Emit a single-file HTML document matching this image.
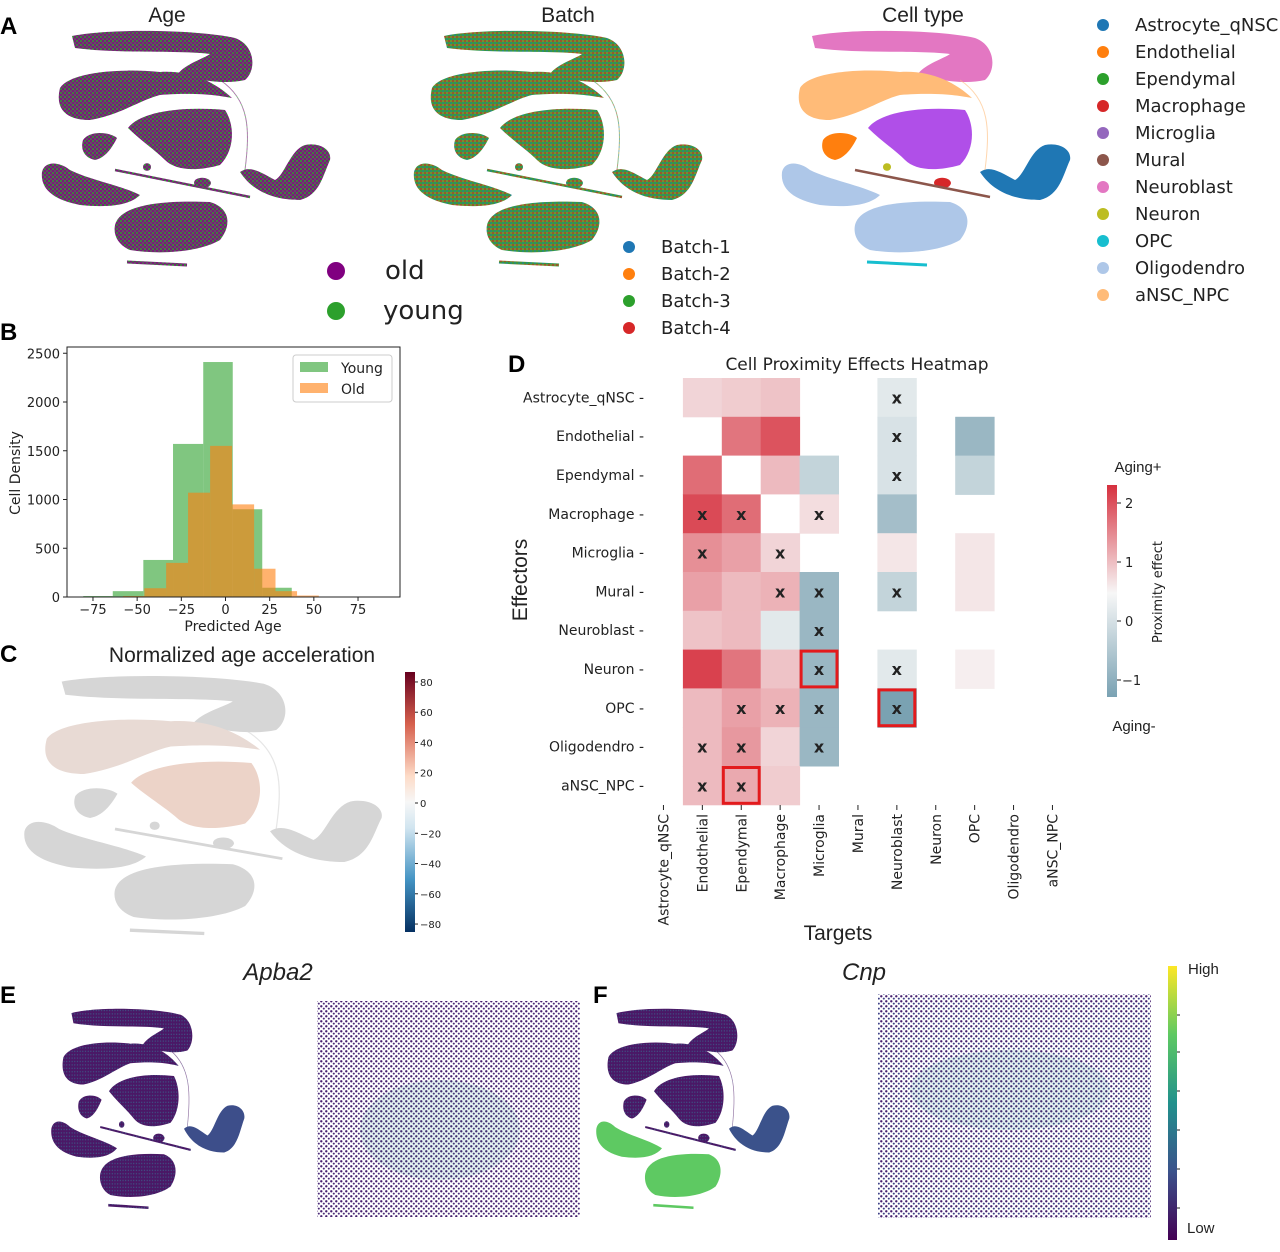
<!DOCTYPE html>
<html><head><meta charset="utf-8"><style>
body{margin:0;background:#fff}
svg text{font-family:"DejaVu Sans","Liberation Sans",sans-serif;fill:#222}
.ttl{font-family:"Liberation Sans",sans-serif}
.pl{font-family:"Liberation Sans",sans-serif;font-weight:bold;font-size:24px;fill:#000}
</style></head><body>
<svg id="fig" width="1280" height="1247" viewBox="0 0 1280 1247" xmlns="http://www.w3.org/2000/svg">
<defs>
<pattern id="pAge" width="4" height="4" patternUnits="userSpaceOnUse"><rect width="4" height="4" fill="#7a1a7a"/><circle cx="1" cy="1" r="1" fill="#2ca02c"/><circle cx="3" cy="3" r="0.8" fill="#3a9a3a"/></pattern>
<pattern id="pBatch" width="4" height="4" patternUnits="userSpaceOnUse"><rect width="4" height="4" fill="#3a9a3a"/><circle cx="1" cy="1" r="0.9" fill="#d62728"/><circle cx="3" cy="3" r="0.8" fill="#1f77b4"/><circle cx="3" cy="1" r="0.6" fill="#ff7f0e"/></pattern>
<pattern id="pE" width="4" height="4" patternUnits="userSpaceOnUse"><rect width="4" height="4" fill="#4a1866"/><circle cx="1" cy="1" r="0.8" fill="#3b5f8a"/></pattern>
<pattern id="pSp" width="5" height="5" patternUnits="userSpaceOnUse"><rect width="5" height="5" fill="#fff"/><circle cx="1.3" cy="1.3" r="1.2" fill="#46206e"/><circle cx="3.8" cy="3.6" r="1.0" fill="#4a2a78"/></pattern>
<pattern id="pSp2" width="5" height="5" patternUnits="userSpaceOnUse"><rect width="5" height="5" fill="#fff"/><circle cx="1.3" cy="1.3" r="1.2" fill="#46206e"/><circle cx="3.8" cy="3.6" r="1.0" fill="#3d3f85"/></pattern>
<linearGradient id="gHeat" x1="0" y1="0" x2="0" y2="1">
<stop offset="0" stop-color="#d6303e"/><stop offset="0.51" stop-color="#f7f7f7"/><stop offset="1" stop-color="#7aa2b3"/></linearGradient>
<linearGradient id="gRdBu" x1="0" y1="0" x2="0" y2="1">
<stop offset="0" stop-color="#67001f"/><stop offset="0.2" stop-color="#d6604d"/><stop offset="0.4" stop-color="#fddbc7"/><stop offset="0.5" stop-color="#f7f7f7"/><stop offset="0.6" stop-color="#d1e5f0"/><stop offset="0.8" stop-color="#4393c3"/><stop offset="1" stop-color="#053061"/></linearGradient>
<linearGradient id="gVir" x1="0" y1="1" x2="0" y2="0">
<stop offset="0" stop-color="#440154"/><stop offset="0.25" stop-color="#3b528b"/><stop offset="0.5" stop-color="#21918c"/><stop offset="0.75" stop-color="#5ec962"/><stop offset="1" stop-color="#fde725"/></linearGradient>
</defs>

<text class="pl" x="0" y="34">A</text>
<text class="pl" x="0" y="340">B</text>
<text class="pl" x="0" y="662">C</text>
<text class="pl" x="508" y="372">D</text>
<text class="pl" x="0" y="1003">E</text>
<text class="pl" x="593" y="1003">F</text>

<text class="ttl" x="167" y="22" font-size="21" text-anchor="middle">Age</text>
<text class="ttl" x="568" y="22" font-size="21" text-anchor="middle">Batch</text>
<text class="ttl" x="923" y="22" font-size="21" text-anchor="middle">Cell type</text>

<g id="umaps"></g>

<g>
<circle cx="336" cy="271" r="9" fill="#800080"/><text x="385" y="279" font-size="26">old</text>
<circle cx="336" cy="311" r="9" fill="#2ca02c"/><text x="383" y="319" font-size="26">young</text>
</g>
<g id="batchLeg"></g>
<g id="ctLeg"></g>

<g id="hist"></g>

<text class="ttl" x="242" y="662" font-size="21" text-anchor="middle">Normalized age acceleration</text>
<rect x="405" y="672" width="10" height="260" fill="url(#gRdBu)"/>
<g id="cbC" font-size="10"></g>

<text x="857" y="370" font-size="17" text-anchor="middle">Cell Proximity Effects Heatmap</text>
<g id="heat"></g>
<text class="ttl" x="838" y="940" font-size="21" text-anchor="middle">Targets</text>
<text class="ttl" x="0" y="0" font-size="21" text-anchor="middle" transform="translate(527,580) rotate(-90)">Effectors</text>
<rect x="1107" y="485" width="10" height="212" fill="url(#gHeat)"/>
<g font-size="13">
<line x1="1117" y1="503" x2="1121" y2="503" stroke="#222"/><text x="1125" y="508">2</text>
<line x1="1117" y1="562" x2="1121" y2="562" stroke="#222"/><text x="1125" y="567">1</text>
<line x1="1117" y1="621" x2="1121" y2="621" stroke="#222"/><text x="1125" y="626">0</text>
<line x1="1117" y1="680" x2="1121" y2="680" stroke="#222"/><text x="1122" y="685">−1</text>
</g>
<text class="ttl" x="1138" y="472" font-size="15" text-anchor="middle">Aging+</text>
<text class="ttl" x="1134" y="731" font-size="15" text-anchor="middle">Aging-</text>
<text x="0" y="0" font-size="13" text-anchor="middle" transform="translate(1162,592) rotate(-90)">Proximity effect</text>

<text class="ttl" x="278" y="980" font-size="24" font-style="italic" text-anchor="middle">Apba2</text>
<text class="ttl" x="864" y="980" font-size="24" font-style="italic" text-anchor="middle">Cnp</text>
<rect x="317" y="1001" width="263" height="216" fill="url(#pSp)"/>
<ellipse cx="440" cy="1130" rx="80" ry="50" fill="#21918c" opacity="0.12"/>
<rect x="878" y="994" width="273" height="224" fill="url(#pSp2)"/>
<ellipse cx="1010" cy="1090" rx="100" ry="40" fill="#21918c" opacity="0.12"/>
<rect x="1168" y="966" width="9" height="274" fill="url(#gVir)"/>
<g stroke="#222"><line x1="1177" y1="1015" x2="1180" y2="1015"/><line x1="1177" y1="1052" x2="1180" y2="1052"/><line x1="1177" y1="1091" x2="1180" y2="1091"/><line x1="1177" y1="1130" x2="1180" y2="1130"/><line x1="1177" y1="1169" x2="1180" y2="1169"/><line x1="1177" y1="1208" x2="1180" y2="1208"/></g>
<text class="ttl" x="1188" y="974" font-size="15">High</text>
<text class="ttl" x="1187" y="1233" font-size="15">Low</text>
</svg>
<script>
const NS='http://www.w3.org/2000/svg';
function mk(p,tag,attrs){const e=document.createElementNS(NS,tag);for(const k in attrs)e.setAttribute(k,attrs[k]);p.appendChild(e);return e;}

const clusters=[
 ['neuroblast','M812,36 C850,28 940,30 975,38 C995,45 997,70 985,80 C965,85 935,80 918,74 C925,64 945,58 950,54 C920,50 860,54 815,48 Z','#e377c2'],
 ['ansc','M800,88 C810,72 860,68 900,72 C930,70 955,82 972,98 C960,96 940,92 900,95 C880,100 860,115 830,120 C805,120 795,108 800,88 Z','#ffbb78'],
 ['microglia','M868,128 C880,112 920,106 965,110 C975,125 975,150 960,165 C935,172 915,170 905,160 C895,150 880,140 868,128 Z','#b04fe8'],
 ['endothelial','M823,140 C830,130 850,132 857,138 C852,148 845,158 835,160 C825,158 820,150 823,140 Z','#ff7f0e'],
 ['oligo-a','M782,172 C785,160 800,162 810,170 C830,180 860,185 880,195 C870,205 850,208 820,205 C795,200 780,190 782,172 Z','#aec7e8'],
 ['oligo-b','M855,225 C860,205 900,200 950,202 C970,208 972,225 960,240 C940,252 900,255 870,250 C858,245 853,235 855,225 Z','#aec7e8'],
 ['astro','M980,172 C990,165 1000,172 1015,180 C1025,175 1030,150 1045,145 C1060,142 1072,150 1070,160 C1063,175 1060,195 1040,200 C1020,200 995,195 980,172 Z','#1f77b4'],
 ['macrophage','M934,183 C934,176 950,176 951,183 C950,190 935,190 934,183 Z','#d62728'],
 ['neuron','M883,167 C883,162 891,162 891,167 C891,172 883,172 883,167 Z','#bcbd22']
];
const lines=[['mural','M855,170 L990,197','#8c564b',2.5],['opc','M867,262 L927,265','#17becf',3],['bridge','M960,80 C990,100 990,130 985,170','#ffbb78',1]];
function umap(name,tx,ty,sx,sy,colorFn){
  const g=mk(document.getElementById('umaps'),'g',{transform:`translate(${tx},${ty}) scale(${sx},${sy}) translate(-780,-30)`});
  
  
  clusters.forEach(c=>mk(g,'path',{d:c[1],fill:colorFn(c[0],c[2])}));
  lines.forEach(l=>mk(g,'path',{d:l[1],fill:'none',stroke:colorFn(l[0],l[2]),'stroke-width':l[3],'stroke-opacity':l[0]==='bridge'?0.6:1}));
}
umap('age-umap',40,30,1,1,()=> 'url(#pAge)');
umap('batch-umap',412,30,1,1,()=> 'url(#pBatch)');
umap('cell-type-umap',780,30,1,1,(n,c)=>c);
umap('age-acceleration-umap',22,675,1.24,1.1,(n)=>n==='microglia'?'#ecd3c8':(n==='ansc'?'#e8dad4':'#d6d6d6'));
umap('apba2-umap',50,1008,0.67,0.85,(n)=>n==='astro'?'#3d4e8a':'url(#pE)');
umap('cnp-umap',595,1008,0.67,0.85,(n)=>(n==='oligo-a'||n==='oligo-b'||n==='opc')?'#5ec962':(n==='astro'?'#3b528b':'url(#pE)'));

const batchNames=['Batch-1','Batch-2','Batch-3','Batch-4'];
const batchColors=['#1f77b4','#ff7f0e','#2ca02c','#d62728'];
batchNames.forEach((b,i)=>{const y=247+i*27;const bl=document.getElementById('batchLeg');
 mk(bl,'circle',{cx:629,cy:y,r:6,fill:batchColors[i]});
 const t=mk(bl,'text',{x:661,y:y+6,'font-size':18});t.textContent=b;
 
 });
const ctNames=['Astrocyte_qNSC','Endothelial','Ependymal','Macrophage','Microglia','Mural','Neuroblast','Neuron','OPC','Oligodendro','aNSC_NPC'];
const ctColors=['#1f77b4','#ff7f0e','#2ca02c','#d62728','#9467bd','#8c564b','#e377c2','#bcbd22','#17becf','#aec7e8','#ffbb78'];
ctNames.forEach((n,i)=>{const y=25+i*27;const cl=document.getElementById('ctLeg');
 mk(cl,'circle',{cx:1103,cy:y,r:6,fill:ctColors[i]});
 const t=mk(cl,'text',{x:1135,y:y+6,'font-size':18});t.textContent=n;
 
 });

const youngEdges=[-80.5,-63.8,-46.5,-29.7,-12.6,4.1,20.8,37.5,54.3];
const youngCounts=[10,60,380,1570,2410,900,95,5];
const oldEdges=[-70,-58,-45.9,-33.6,-21.2,-8.7,3.7,16.2,28.3,40.5,52.8];
const oldCounts=[5,10,90,350,1070,1550,950,290,60,15];
const xTicks=[-75,-50,-25,0,25,50,75];
const yTicks=[0,500,1000,1500,2000,2500];
const hx=v=>225.5+v*1.767, hy=v=>597-v*0.0975;
(function(){const h=document.getElementById('hist');
 for(let i=0;i<youngCounts.length;i++){const r=mk(h,'rect',{x:hx(youngEdges[i]),y:hy(youngCounts[i]),width:hx(youngEdges[i+1])-hx(youngEdges[i]),height:597-hy(youngCounts[i]),fill:'#2ca02c','fill-opacity':0.6});
  
  }
 for(let i=0;i<oldCounts.length;i++){const r=mk(h,'rect',{x:hx(oldEdges[i]),y:hy(oldCounts[i]),width:hx(oldEdges[i+1])-hx(oldEdges[i]),height:597-hy(oldCounts[i]),fill:'#ff7f0e','fill-opacity':0.6});
  
  }
 mk(h,'rect',{x:67,y:347,width:333,height:250,fill:'none',stroke:'#222','stroke-width':1});
 xTicks.forEach(v=>{mk(h,'line',{x1:hx(v),x2:hx(v),y1:597,y2:601,stroke:'#222'});const t=mk(h,'text',{x:hx(v),y:614,'font-size':13,'text-anchor':'middle'});t.textContent=v<0?'−'+(-v):v;});
 yTicks.forEach(v=>{mk(h,'line',{x1:63,x2:67,y1:hy(v),y2:hy(v),stroke:'#222'});const t=mk(h,'text',{x:60,y:hy(v)+5,'font-size':13,'text-anchor':'end'});t.textContent=v;});
 let t=mk(h,'text',{x:233,y:631,'font-size':14,'text-anchor':'middle'});t.textContent='Predicted Age';
 t=mk(h,'text',{x:0,y:0,'font-size':14,'text-anchor':'middle',transform:'translate(20,473) rotate(-90)'});t.textContent='Cell Density';
 mk(h,'rect',{x:293,y:355,width:99,height:47,fill:'#fff',stroke:'#ccc',rx:3});
 mk(h,'rect',{x:300,y:362,width:28,height:10,fill:'#2ca02c','fill-opacity':0.6});
 mk(h,'rect',{x:300,y:383,width:28,height:10,fill:'#ff7f0e','fill-opacity':0.6});
 t=mk(h,'text',{x:341,y:373,'font-size':14});t.textContent='Young';
 t=mk(h,'text',{x:341,y:394,'font-size':14});t.textContent='Old';
})();

const cTicks=[80,60,40,20,0,-20,-40,-60,-80];
(function(){const g=document.getElementById('cbC');cTicks.forEach(v=>{const y=803-v*1.513;mk(g,'line',{x1:415,x2:418,y1:y,y2:y,stroke:'#222'});const t=mk(g,'text',{x:420,y:y+4});t.textContent=v<0?'−'+(-v):v;});})();

const effectors=['Astrocyte_qNSC','Endothelial','Ependymal','Macrophage','Microglia','Mural','Neuroblast','Neuron','OPC','Oligodendro','aNSC_NPC'];
const targets=['Astrocyte_qNSC','Endothelial','Ependymal','Macrophage','Microglia','Mural','Neuroblast','Neuron','OPC','Oligodendro','aNSC_NPC'];
const N=null;
const effects=[
 [N,0.4,0.5,0.6,N,N,-0.2,N,N,N,N],
 [N,N,1.5,1.9,N,N,-0.3,N,-0.9,N,N],
 [N,1.6,0,0.7,-0.5,N,-0.3,N,-0.5,N,N],
 [N,2.0,1.6,0,0.3,N,-0.8,N,N,N,N],
 [N,1.2,1.0,0.4,N,N,0.2,N,0.2,N,N],
 [N,1.0,0.7,0.8,-0.9,N,-0.5,N,0.2,N,N],
 [N,0.6,0.7,-0.2,-0.9,N,N,N,N,N,N],
 [N,2.1,1.5,0.6,-0.9,N,-0.2,N,0.1,N,N],
 [N,0.7,1.0,0.8,-0.9,N,-1.2,N,N,N,N],
 [N,0.7,1.1,0.4,-0.9,N,N,N,N,N,N],
 [N,0.7,0.9,0.5,N,N,N,N,N,N,N]
];
const sig=[[0,6],[1,6],[2,6],[3,1],[3,2],[3,4],[4,1],[4,3],[5,3],[5,4],[5,6],[6,4],[7,4],[7,6],[8,2],[8,3],[8,4],[8,6],[9,1],[9,2],[9,4],[10,1],[10,2]];
const boxed=[[7,4],[8,6],[10,2]];
const cellW=38.9,cellH=38.8,x0=644,y0=378;
const cx=j=>x0+j*cellW, cy=i=>y0+i*cellH;
function heatColor(v){const w=[247,247,247];let c,f;if(v>=0){c=[214,48,62];f=Math.min(v/2.3,1);}else{c=[112,155,172];f=Math.min(-v/1.3,1);}
 return 'rgb('+w.map((a,k)=>Math.round(a+(c[k]-a)*f)).join(',')+')';}
(function(){const h=document.getElementById('heat');
 effects.forEach((row,i)=>row.forEach((v,j)=>{if(v===null)return;const r=mk(h,'rect',{x:cx(j),y:cy(i),width:cellW+0.5,height:cellH+0.5,fill:v===0?'#fff':heatColor(v)});
  
  }));
 sig.forEach(([i,j])=>{const t=mk(h,'text',{x:cx(j)+cellW/2,y:cy(i)+cellH/2+6,'font-size':16,'font-weight':'bold','text-anchor':'middle',fill:'#111'});t.textContent='x';});
 boxed.forEach(([i,j])=>{const r=mk(h,'rect',{x:cx(j)+1.5,y:cy(i)+1.5,width:cellW-3,height:cellH-3,fill:'none',stroke:'#e31a1c','stroke-width':3});
  
  });
 effectors.forEach((n,i)=>{const t=mk(h,'text',{x:644,y:cy(i)+cellH/2+5,'font-size':14,'text-anchor':'end'});t.textContent=n+' -';});
 targets.forEach((n,j)=>{const x=cx(j)+cellW/2;mk(h,'line',{x1:x,x2:x,y1:805,y2:810,stroke:'#222'});
  const t=mk(h,'text',{x:0,y:0,'font-size':14,'text-anchor':'end',transform:`translate(${x+5},814) rotate(-90)`});t.textContent=n;});
})();
</script>
</body></html>
